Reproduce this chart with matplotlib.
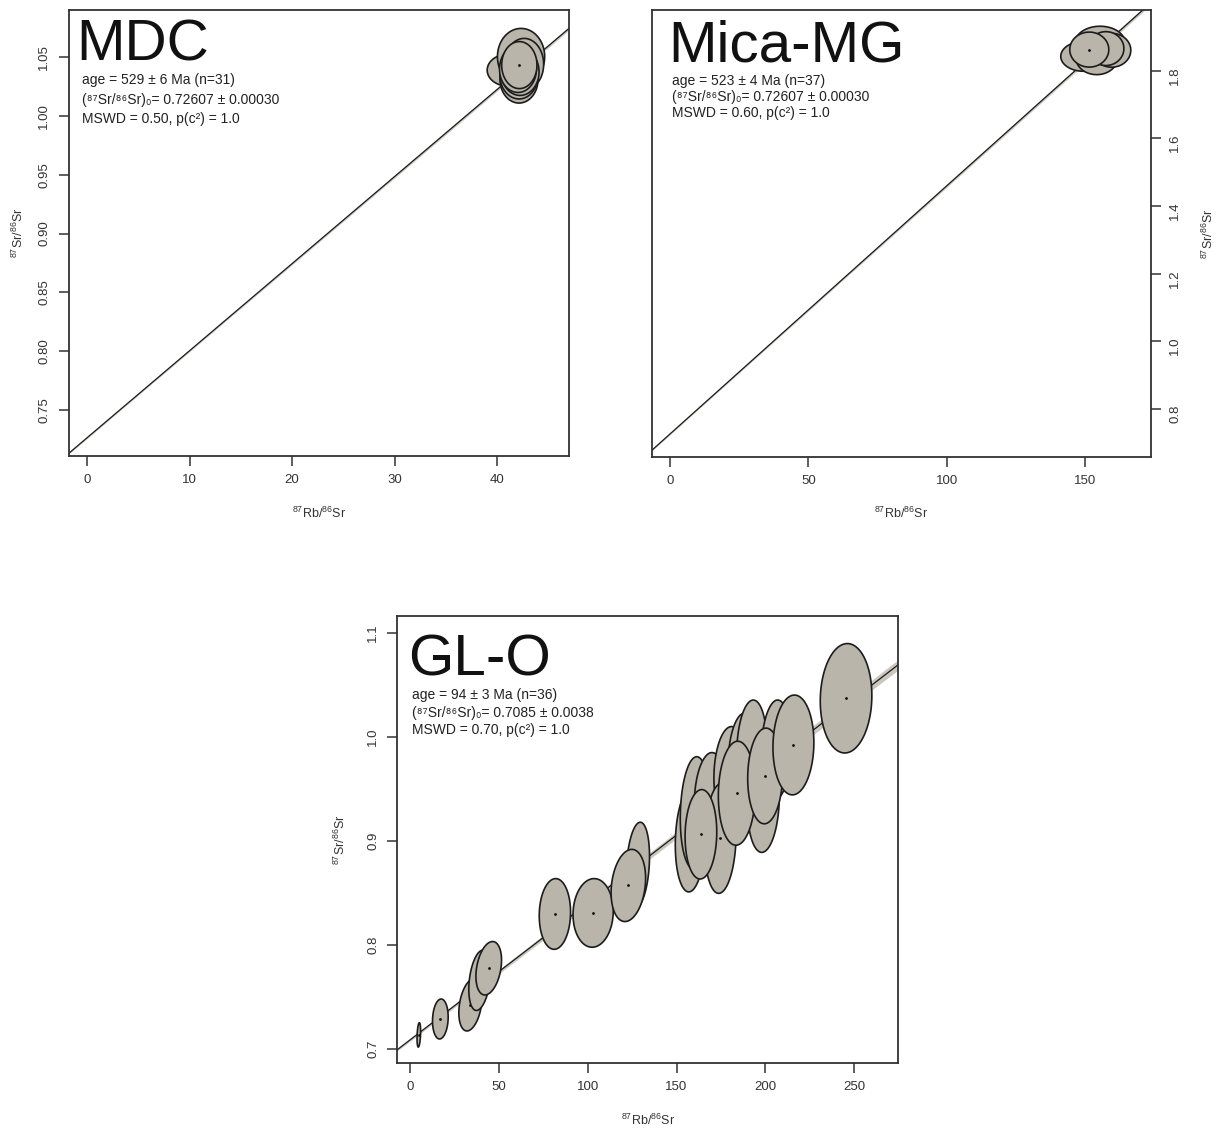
import numpy as np
import matplotlib
matplotlib.use("Agg")
import matplotlib.pyplot as plt

# ---------------------------------------------------------------
# Rb-Sr isochron data: ellipse centres, 1-sigma half-widths, correlation
# ---------------------------------------------------------------
LAMBDA_RB87 = 1.3972e-5  # decay constant, 1/Ma

# MDC
mdc_x   = [41.0, 42.3, 42.6, 42.1, 42.1, 42.2, 42.0, 42.13]
mdc_sx  = [2.0, 2.3, 1.9, 1.85, 1.85, 1.85, 1.8, 1.72]
mdc_y   = [1.0390, 1.0505, 1.0440, 1.0310, 1.0345, 1.0375, 1.0400, 1.0433]
mdc_sy  = [0.0135, 0.024, 0.022, 0.020, 0.020, 0.020, 0.020, 0.020]
mdc_rho = [0, 0, 0, 0, 0, 0, 0, 0]
mdc_age, mdc_age_err, mdc_n = 529, 6, 31
mdc_i0, mdc_i0_err = 0.72607, 0.00030
mdc_mswd, mdc_p = 0.50, 1.0

# Mica-MG
mica_x   = [149.4, 155.4, 154.2, 159.6, 157.5, 151.5]
mica_sx  = [8.2, 9.0, 7.5, 6.9, 6.5, 7.05]
mica_y   = [1.842, 1.882, 1.837, 1.860, 1.865, 1.862]
mica_sy  = [0.044, 0.049, 0.049, 0.050, 0.050, 0.0517]
mica_rho = [0, 0, 0, 0, 0, 0]
mica_age, mica_age_err, mica_n = 523, 4, 37
mica_i0, mica_i0_err = 0.72607, 0.00030
mica_mswd, mica_p = 0.60, 1.0

# GL-O
glo_x   = [5.1, 17.2, 34.1, 39.3, 44.4, 81.6, 103.1, 128.3, 122.9,
           157.7, 160.5, 169.0, 180.0, 187.5, 192.3, 206.0, 198.8, 174.6,
           163.7, 183.9, 199.8, 215.7, 245.3]
glo_sx  = [1.0, 4.4, 6.5, 6.1, 7.2, 8.8, 11.3, 6.5, 9.7,
           8.4, 8.4, 9.0, 9.0, 8.5, 8.5, 8.5, 9.0, 8.9,
           8.9, 10.4, 9.8, 11.5, 14.5]
glo_y   = [0.7135, 0.7288, 0.7423, 0.7660, 0.7776, 0.8298, 0.8308, 0.8770, 0.8572,
           0.9010, 0.9270, 0.9400, 0.9650, 0.9780, 0.9875, 0.9875, 0.9390, 0.9026,
           0.9064, 0.9459, 0.9625, 0.9923, 1.0372]
glo_sy  = [0.0117, 0.0192, 0.0250, 0.0290, 0.0257, 0.0340, 0.0330, 0.0410, 0.0347,
           0.0500, 0.0540, 0.0450, 0.0450, 0.0450, 0.0480, 0.0480, 0.0500, 0.0530,
           0.0430, 0.0500, 0.0460, 0.0480, 0.0526]
glo_rho = [0.3, 0.1, 0.3, 0.3, 0.3, 0.05, 0.05, 0.2, 0.2,
           0.1, 0.1, 0.1, 0.1, 0.1, 0.1, 0.1, 0.1, 0.1,
           0.05, 0.05, 0.05, 0.05, 0.05]
glo_age, glo_age_err, glo_n = 94, 3, 36
glo_i0, glo_i0_err = 0.7085, 0.0038
glo_mswd, glo_p = 0.70, 1.0

# axis ranges and ticks
mdc_xlim, mdc_ylim = (-1.79, 46.97), (0.7107, 1.0906)
mdc_xticks = [0, 10, 20, 30, 40]
mdc_yticks = [0.75, 0.80, 0.85, 0.90, 0.95, 1.00, 1.05]
mica_xlim, mica_ylim = (-6.6, 173.8), (0.659, 1.979)
mica_xticks = [0, 50, 100, 150]
mica_yticks = [0.8, 1.0, 1.2, 1.4, 1.6, 1.8]
glo_xlim, glo_ylim = (-7.0, 274.5), (0.6862, 1.1165)
glo_xticks = [0, 50, 100, 150, 200, 250]
glo_yticks = [0.7, 0.8, 0.9, 1.0, 1.1]

# ---------------------------------------------------------------
plt.rcParams["font.family"] = ["Liberation Sans", "DejaVu Sans"]
plt.rcParams["mathtext.fontset"] = "custom"
plt.rcParams["mathtext.rm"] = "Liberation Sans"
plt.rcParams["mathtext.it"] = "Liberation Sans:italic"
plt.rcParams["mathtext.bf"] = "Liberation Sans:bold"

FILL = "#b9b5aa"
EDGE = "#1c1c1c"
AXC = "#333333"

W, H = 1221, 1133
fig = plt.figure(figsize=(W / 100, H / 100), dpi=100)


def px_axes(left, top, right, bottom):
    return fig.add_axes([left / W, 1 - bottom / H, (right - left) / W, (bottom - top) / H])


def ellipse_outline(cx, sx, cy, sy, rho, n=120):
    t = np.linspace(0, 2 * np.pi, n)
    ex = cx + sx * np.cos(t)
    ey = cy + sy * (rho * np.cos(t) + np.sqrt(1 - rho ** 2) * np.sin(t))
    return ex, ey


def isochron(ax, xs, sxs, ys, sys_, rhos, age, i0, band_lo, band_hi, xlim):
    slope = np.exp(LAMBDA_RB87 * age) - 1
    xx = np.linspace(xlim[0], xlim[1], 200)
    yy = i0 + slope * xx
    half = band_lo + (band_hi - band_lo) * (xx - xlim[0]) / (xlim[1] - xlim[0])
    ax.fill_between(xx, yy - half, yy + half, color="#cbc7bf", lw=0, zorder=1)
    ax.plot(xx, yy, color="#1a1a1a", lw=0.9, zorder=2)
    # each ellipse (with its centre dot) is stacked above the previous one
    for k, (cx, sx, cy, sy, r) in enumerate(zip(xs, sxs, ys, sys_, rhos)):
        ex, ey = ellipse_outline(cx, sx, cy, sy, r)
        z = 3 + 0.01 * k
        ax.fill(ex, ey, facecolor=FILL, edgecolor=EDGE, lw=1.2, zorder=z)
        ax.plot([cx], [cy], marker="o", ms=1.0, color="#111111", zorder=z + 0.005)


def style_axes(ax, xlim, ylim, xticks, yticks, yfmt, ylabelpad, right=False):
    ax.set_xlim(*xlim)
    ax.set_ylim(*ylim)
    ax.set_xticks(xticks)
    ax.set_xticklabels([str(v) for v in xticks])
    ax.set_yticks(yticks)
    ax.set_yticklabels([yfmt.format(v) for v in yticks])
    for s in ax.spines.values():
        s.set_linewidth(1.3)
        s.set_color(AXC)
    ax.tick_params(direction="out", length=7, width=1.1, color=AXC,
                   labelsize=9.5, labelcolor="#333333", pad=6)
    ax.tick_params(axis="y", labelrotation=90)
    for lab in ax.get_yticklabels():
        lab.set_va("center")
    if right:
        ax.yaxis.tick_right()
        ax.yaxis.set_label_position("right")
    ax.set_xlabel(r"$^{87}$Rb/$^{86}$Sr", fontsize=9, color="#333333", labelpad=14)
    ax.set_ylabel(r"$^{87}$Sr/$^{86}$Sr", fontsize=9, color="#333333",
                  labelpad=ylabelpad, rotation=90)


def annotate(ax, name, age, age_err, n, i0, i0_err, i0_fmt, mswd, p,
             tx, ty, sx, sy, spacing):
    ax.text(tx, ty, name, transform=ax.transAxes, fontsize=42,
            va="baseline", ha="left", color="#111111", zorder=6)
    block = "\n".join([
        f"age = {age} ± {age_err} Ma (n={n})",
        f"(⁸⁷Sr/⁸⁶Sr)₀= {i0_fmt.format(i0)} ± {i0_fmt.format(i0_err)}",
        f"MSWD = {mswd:.2f}, p(c²) = {p:.1f}",
    ])
    ax.text(sx, sy, block, transform=ax.transAxes, fontsize=10,
            va="top", ha="left", color="#222222", linespacing=spacing, zorder=6)


# --- MDC -------------------------------------------------------
ax1 = px_axes(68.5, 9.5, 569, 456)
isochron(ax1, mdc_x, mdc_sx, mdc_y, mdc_sy, mdc_rho, mdc_age, mdc_i0,
         0.0006, 0.0015, mdc_xlim)
style_axes(ax1, mdc_xlim, mdc_ylim, mdc_xticks, mdc_yticks, "{:.2f}", 9)
annotate(ax1, "MDC", mdc_age, mdc_age_err, mdc_n, mdc_i0, mdc_i0_err, "{:.5f}",
         mdc_mswd, mdc_p, 0.016, 0.8847, 0.026, 0.8567, 1.46)

# --- Mica-MG ---------------------------------------------------
ax2 = px_axes(651.7, 10, 1151, 456.7)
isochron(ax2, mica_x, mica_sx, mica_y, mica_sy, mica_rho, mica_age, mica_i0,
         0.002, 0.006, mica_xlim)
style_axes(ax2, mica_xlim, mica_ylim, mica_xticks, mica_yticks, "{:.1f}", 14, right=True)
annotate(ax2, "Mica-MG", mica_age, mica_age_err, mica_n, mica_i0, mica_i0_err, "{:.5f}",
         mica_mswd, mica_p, 0.034, 0.8858, 0.040, 0.8578, 1.2)

# --- GL-O ------------------------------------------------------
ax3 = px_axes(397.3, 615.8, 898, 1063.3)
isochron(ax3, glo_x, glo_sx, glo_y, glo_sy, glo_rho, glo_age, glo_i0,
         0.0012, 0.005, glo_xlim)
style_axes(ax3, glo_xlim, glo_ylim, glo_xticks, glo_yticks, "{:.1f}", 14)
annotate(ax3, "GL-O", glo_age, glo_age_err, glo_n, glo_i0, glo_i0_err, "{:.4f}",
         glo_mswd, glo_p, 0.021, 0.8677, 0.029, 0.8387, 1.34)

fig.savefig("out.png", dpi=100)
